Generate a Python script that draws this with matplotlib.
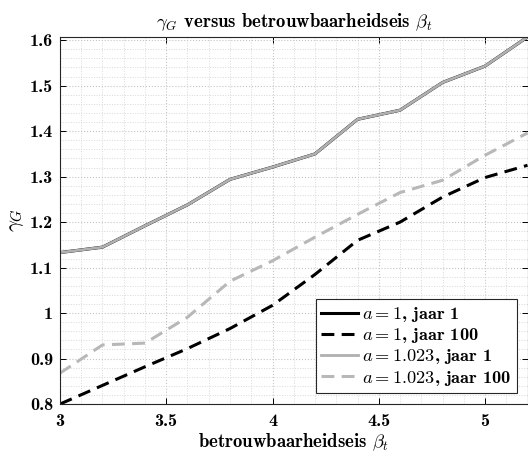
import matplotlib
matplotlib.use('Agg')
from matplotlib import pyplot as plt
from matplotlib.ticker import MultipleLocator, FuncFormatter

# data
beta = [3.0, 3.2, 3.4, 3.6, 3.8, 4.0, 4.2, 4.4, 4.6, 4.8, 5.0, 5.2]
g_a1_j1 = [1.133, 1.145, 1.192, 1.238, 1.294, 1.321, 1.350, 1.426, 1.446, 1.507, 1.543, 1.607]
g_a1_j100 = [0.800, 0.841, 0.882, 0.922, 0.966, 1.017, 1.085, 1.160, 1.200, 1.255, 1.298, 1.325]
g_a2_j1 = g_a1_j1
g_a2_j100 = [0.868, 0.930, 0.934, 0.991, 1.070, 1.115, 1.167, 1.217, 1.265, 1.292, 1.347, 1.396]

labels = ['$a = 1$, jaar 1', '$a = 1$, jaar 100',
          '$a = 1.023$, jaar 1', '$a = 1.023$, jaar 100']

plt.rcParams['font.family'] = ['cmb10', 'DejaVu Serif']
plt.rcParams['mathtext.fontset'] = 'cm'
plt.rcParams['axes.unicode_minus'] = False

fig = plt.figure(figsize=(5.28, 4.54), dpi=100)
ax = fig.add_axes([0.1136, 0.110, 0.8855, 0.8085])

dash = (0, (4.2, 2.4))
ax.plot(beta, g_a1_j1, color='black', lw=2.2, label=labels[0])
ax.plot(beta, g_a1_j100, color='black', lw=2.2, ls=dash, label=labels[1])
ax.plot(beta, g_a2_j1, color='#b0b0b0', lw=2.0, label=labels[2])
ax.plot(beta, g_a2_j100, color='#b8b8b8', lw=2.2, ls=dash, label=labels[3])

ax.set_xlim(3, 5.2)
ax.set_ylim(0.8, 1.607)
ax.xaxis.set_major_locator(MultipleLocator(0.5))
ax.xaxis.set_minor_locator(MultipleLocator(0.1))
ax.yaxis.set_major_locator(MultipleLocator(0.1))
ax.yaxis.set_minor_locator(MultipleLocator(0.02))
fmt = FuncFormatter(lambda v, p: '%g' % round(v, 3))
ax.xaxis.set_major_formatter(fmt)
ax.yaxis.set_major_formatter(fmt)

ax.grid(which='major', ls=':', color='#c4c4c4', lw=0.8)
ax.grid(which='minor', ls=':', color='#d8d8d8', lw=0.7)
ax.tick_params(which='both', direction='in', top=True, right=True, labelsize=13)
ax.tick_params(axis='x', pad=7)
ax.tick_params(axis='y', pad=5)
ax.tick_params(which='major', length=4, width=0.7)
ax.tick_params(which='minor', length=0)
for s in ax.spines.values():
    s.set_linewidth(0.8)
    s.set_color('#262626')

ax.set_title(r'$\gamma_G$ versus betrouwbaarheidseis $\beta_t$', fontsize=13.5, pad=7)
ax.set_xlabel(r'betrouwbaarheidseis $\beta_t$', fontsize=13.5, labelpad=2)
ax.set_ylabel(r'$\gamma_G$', fontsize=15, labelpad=3)

leg = ax.legend(loc='lower right', fontsize=13.2, fancybox=False, framealpha=1,
                edgecolor='#262626', handlelength=2.0, handletextpad=0.2,
                borderpad=0.3, labelspacing=0.12, borderaxespad=0.6)
leg.get_frame().set_linewidth(0.8)

fig.savefig('out.png', dpi=100)
